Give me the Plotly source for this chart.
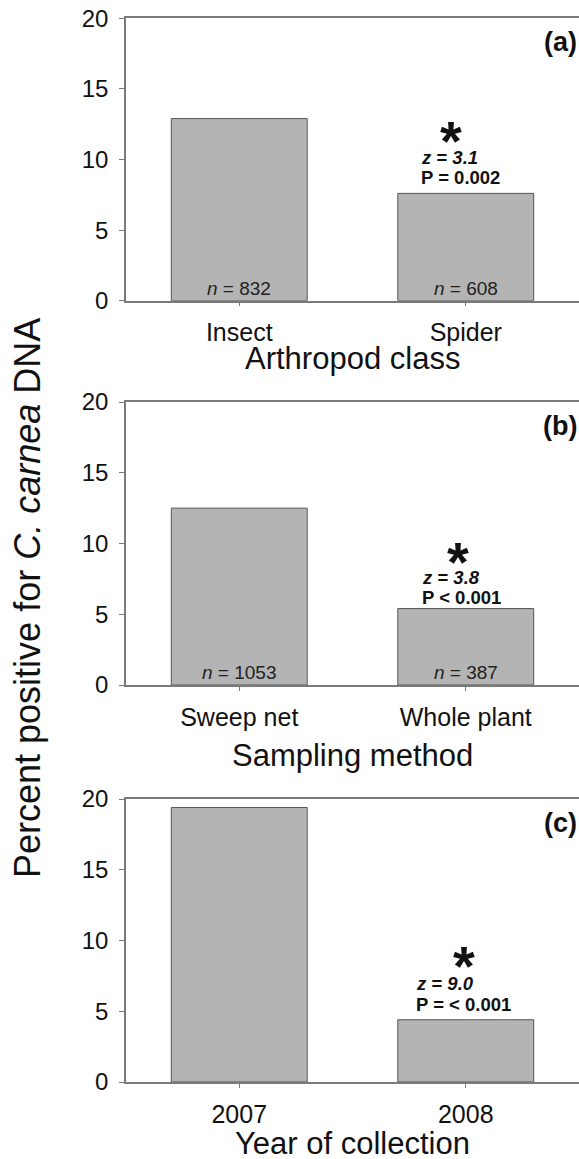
import plotly.graph_objects as go

# ---- data ----
cats_a = ["Insect", "Spider"]
vals_a = [12.9, 7.6]
n_a = ["832", "608"]

cats_b = ["Sweep net", "Whole plant"]
vals_b = [12.5, 5.4]
n_b = ["1053", "387"]

cats_c = ["2007", "2008"]
vals_c = [19.4, 4.4]
n_c = ["599", "841"]

xtitles = ["Arthropod class", "Sampling method", "Year of collection"]
panel_labels = ["(a)", "(b)", "(c)"]
z_texts = ["3.1", "3.8", "9.0"]
p_texts = ["P = 0.002", "P &lt; 0.001", "P = &lt; 0.001"]
yticks = [0, 5, 10, 15, 20]

W, H = 579, 1159
FONT = "Liberation Sans, Arial, sans-serif"


def fx(px):
    return px / W


def fy(py):
    return 1 - py / H


# pixel extents of each panel (top = 20, bottom = 0)
panels = [(18.3, 300.7), (402, 685), (799, 1082)]
xtitle_y = [359, 755, 1143]
xtitle_h = [None, None, 32]

fig = go.Figure()
datasets = [(cats_a, vals_a, n_a), (cats_b, vals_b, n_b), (cats_c, vals_c, n_c)]

# annotation placement (data coords) per panel
star_pos = [(0.934, 11.96), (0.964, 9.33), (0.992, 8.86)]
z_pos = [(0.798, 10.2), (0.801, 7.65), (0.777, 6.98)]
p_pos = [(0.798, 8.76), (0.801, 6.2), (0.777, 5.51)]

annotations = []
for i, (cats, vals, ns) in enumerate(datasets):
    k = "" if i == 0 else str(i + 1)
    xa, ya = "x" + k, "y" + k
    fig.add_trace(go.Bar(
        x=cats, y=vals, width=0.6,
        marker=dict(color="#b4b4b4", line=dict(color="#555555", width=1)),
        xaxis=xa, yaxis=ya, showlegend=False, hoverinfo="skip",
    ))
    top, bot = panels[i]
    fig.layout["xaxis" + k] = dict(
        domain=[fx(126), 1], anchor=ya, type="category",
        range=[-0.5, 1.5], automargin=False,
        showline=True, linecolor="#7a7a7a", linewidth=1.5, mirror=True,
        ticks="outside", ticklen=4, tickcolor="#7a7a7a", tickwidth=1,
        tickfont=dict(family=FONT, size=25, color="#111111"),
        ticklabelstandoff=5,
        showgrid=False, zeroline=False, fixedrange=True,
    )
    fig.layout["yaxis" + k] = dict(
        domain=[fy(bot), fy(top)], anchor=xa, automargin=False,
        range=[0, 20], tickvals=yticks,
        showline=True, linecolor="#7a7a7a", linewidth=1.5, mirror=False,
        ticks="outside", ticklen=5, tickcolor="#7a7a7a", tickwidth=1,
        tickfont=dict(family=FONT, size=24, color="#111111"),
        ticklabelstandoff=6, ticklabeloverflow="allow",
        showgrid=False, zeroline=False, fixedrange=True,
    )
    # x-axis title
    xt = dict(
        x=0.5, y=fy(xtitle_y[i]), xref=xa, yref="paper",
        xanchor="center", yanchor="middle",
        text=xtitles[i], showarrow=False,
        font=dict(family=FONT, size=31, color="#111111"),
    )
    if xtitle_h[i]:
        xt.update(height=xtitle_h[i], valign="middle")
    annotations.append(xt)
    # n labels
    for c, n in zip(cats, ns):
        annotations.append(dict(
            x=c, y=0, xref=xa, yref=ya, yanchor="bottom", yshift=0,
            text="<i>n</i> = " + n, showarrow=False,
            font=dict(family=FONT, size=19, color="#222222"),
        ))
    # star
    sx, sy = star_pos[i]
    annotations.append(dict(
        x=sx, y=sy, xref=xa, yref=ya, xanchor="center", yanchor="middle",
        text="<b>*</b>", showarrow=False, yshift=6, height=34, valign="top",
        borderpad=0,
        font=dict(family=FONT, size=56, color="#111111"),
    ))
    zx, zy = z_pos[i]
    annotations.append(dict(
        x=zx, y=zy, xref=xa, yref=ya, xanchor="left", yanchor="middle",
        height=20, valign="middle", borderpad=0,
        text="<b><i>z</i> = <i>" + z_texts[i] + "</i></b>", showarrow=False,
        font=dict(family=FONT, size=18.5, color="#111111"),
    ))
    px_, pyv = p_pos[i]
    annotations.append(dict(
        x=px_, y=pyv, xref=xa, yref=ya, xanchor="left", yanchor="middle",
        height=20, valign="middle", borderpad=0,
        text="<b>" + p_texts[i] + "</b>", showarrow=False,
        font=dict(family=FONT, size=18.5, color="#111111"),
    ))
    # panel label
    annotations.append(dict(
        x=fx(579), y=fy(top + 24), xref="paper", yref="paper",
        xanchor="right", yanchor="middle",
        text="<b>" + panel_labels[i] + "</b>", showarrow=False,
        font=dict(family=FONT, size=27, color="#111111"),
    ))

annotations.append(dict(
    x=fx(27), y=fy(598), xref="paper", yref="paper",
    xanchor="center", yanchor="middle", textangle=-90,
    text="Percent positive for <i>C. carnea</i> DNA", showarrow=False,
    font=dict(family=FONT, size=36, color="#111111"),
))

fig.update_layout(
    template="none",
    width=W, height=H,
    margin=dict(l=0, r=0, t=0, b=0, autoexpand=False),
    paper_bgcolor="white", plot_bgcolor="white",
    annotations=annotations,
)

fig.write_html(
    "out.html",
    config={"displayModeBar": False},
    post_script="document.body.style.margin='0px';document.body.style.overflow='hidden';",
)
